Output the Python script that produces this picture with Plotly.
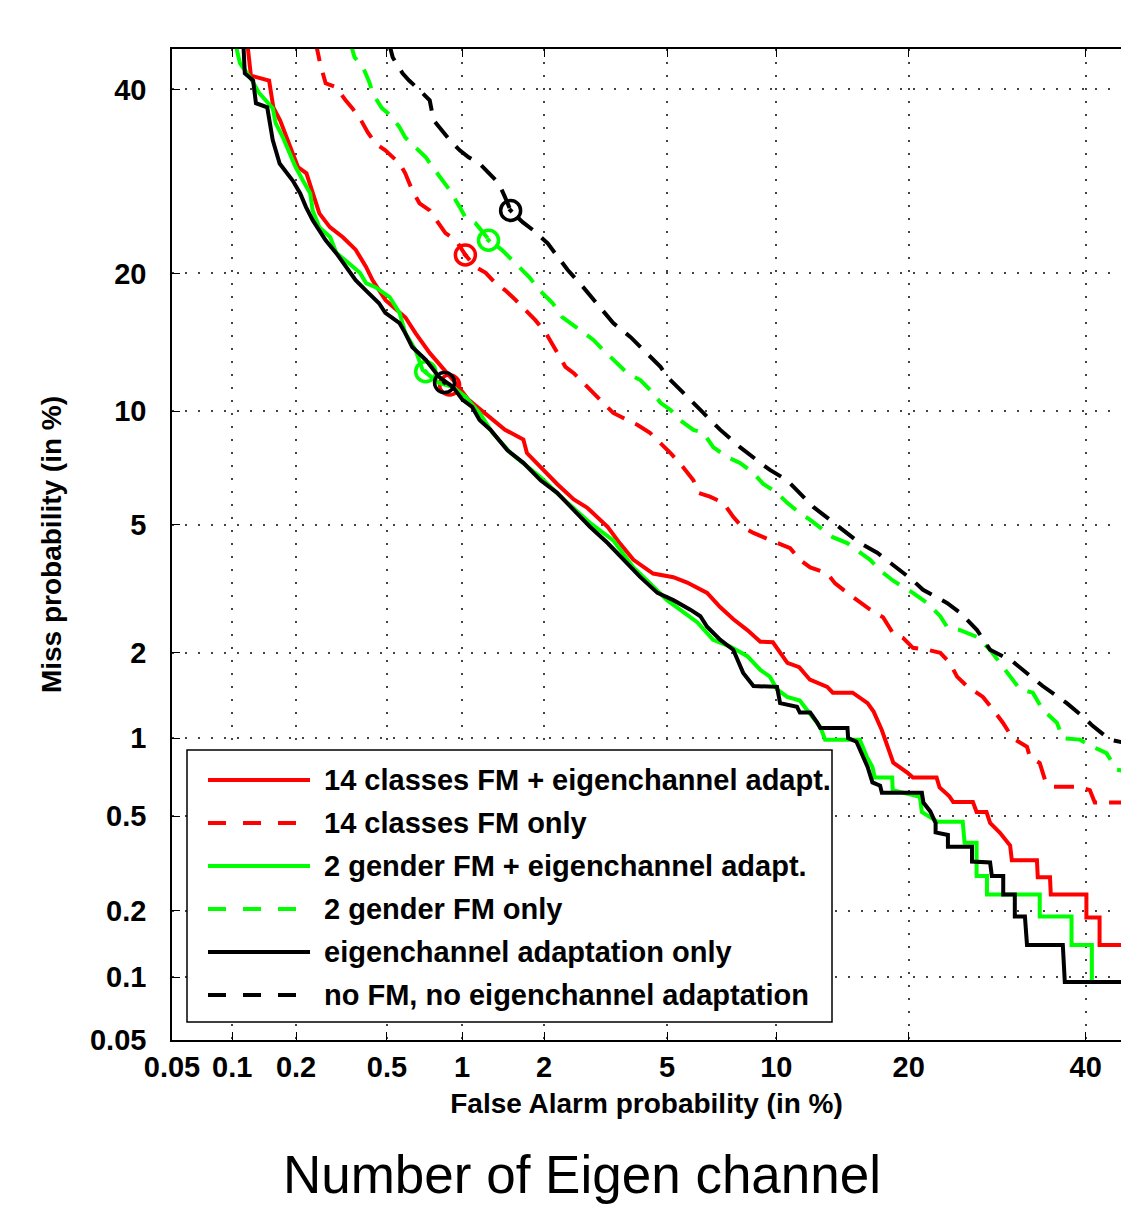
import plotly.graph_objects as go
from statistics import NormalDist

_nd = NormalDist()


def probit(values):
    return [_nd.inv_cdf(v / 100.0) for v in values]


# ---------------- data (percent) ----------------
tick_vals_pct = [0.05, 0.1, 0.2, 0.5, 1, 2, 5, 10, 20, 40]
tick_text = ["0.05", "0.1", "0.2", "0.5", "1", "2", "5", "10", "20", "40"]

legend_labels = [
    "14 classes FM + eigenchannel adapt.",
    "14 classes FM only",
    "2 gender FM + eigenchannel adapt.",
    "2 gender FM only",
    "eigenchannel adaptation only",
    "no FM, no eigenchannel adaptation",
]

red_solid_fa = [0.118, 0.123, 0.150, 0.157, 0.169, 0.183, 0.204, 0.223, 0.239, 0.255,
                0.284, 0.324, 0.368, 0.408, 0.435, 0.493, 0.596, 0.655, 0.748, 0.837,
                0.946, 1.06, 1.315, 1.45, 1.69, 1.74, 1.95, 2.22, 2.53, 2.80,
                3.27, 3.58, 3.95, 4.54, 5.22, 5.73, 6.53, 7.11, 7.72, 8.41,
                9.10, 9.80, 10.66, 11.4, 12.1, 13.3, 13.7, 15.2, 16.4, 16.9,
                17.6, 18.1, 18.6, 19.9, 20.4, 22.7, 23.0, 24.0, 24.4, 26.5,
                26.9, 28.0, 28.4, 29.5, 30.7, 30.9, 33.9, 34.0, 35.5, 35.6,
                40.1, 40.1, 41.8, 41.8, 46.0]
red_solid_miss = [46.0, 41.7, 41.1, 37.8, 36.2, 33.9, 30.8, 30.1, 27.9, 25.8,
                  24.4, 23.4, 22.2, 20.6, 19.4, 17.7, 16.3, 15.1, 13.65, 12.7,
                  11.66, 10.65, 9.5, 9.0, 8.5, 7.85, 7.2, 6.5, 5.9, 5.6,
                  4.94, 4.42, 3.95, 3.59, 3.5, 3.37, 3.13, 2.82, 2.58, 2.38,
                  2.18, 2.17, 1.85, 1.79, 1.62, 1.53, 1.46, 1.46, 1.34, 1.25,
                  1.07, 0.93, 0.81, 0.74, 0.71, 0.71, 0.65, 0.60, 0.57, 0.57,
                  0.52, 0.52, 0.47, 0.43, 0.38, 0.33, 0.33, 0.28, 0.28, 0.236,
                  0.236, 0.187, 0.187, 0.141, 0.141]

red_dashed_fa = [0.245, 0.257, 0.272, 0.303, 0.333, 0.356, 0.388, 0.415, 0.447, 0.492,
                 0.564, 0.595, 0.635, 0.68, 0.747, 0.813, 0.862, 0.946, 1.03, 1.125,
                 1.23, 1.336, 1.454, 1.585, 1.717, 1.864, 2.03, 2.19, 2.37, 2.53,
                 2.80, 3.17, 3.41, 3.78, 4.07, 4.44, 4.78, 5.12, 5.57, 5.97,
                 6.17, 6.65, 7.25, 7.71, 8.14, 8.73, 9.26, 10.04, 10.83, 11.44,
                 12.12, 13.29, 13.87, 14.78, 15.77, 16.61, 17.7, 18.56, 19.5, 20.4,
                 21.77, 23.07, 24.05, 24.8, 25.84, 27.6, 28.73, 29.86, 31.0, 32.7,
                 33.05, 34.24, 34.87, 35.86, 38.9, 40.54, 41.18, 46.0]
red_dashed_miss = [46.0, 43.25, 40.75, 40.25, 38.65, 37.7, 36.25, 34.8, 33.5, 32.7,
                   31.2, 30.1, 28.25, 26.85, 26.1, 24.8, 23.8, 23.1, 21.7, 20.6,
                   20.06, 19.15, 18.53, 17.71, 16.9, 16.09, 15.1, 13.86, 12.72, 12.3,
                   11.43, 10.48, 9.9, 9.51, 9.25, 8.84, 8.33, 7.85, 7.22, 6.65,
                   6.15, 6.0, 5.77, 5.27, 4.94, 4.74, 4.61, 4.45, 4.28, 3.95,
                   3.75, 3.6, 3.35, 3.13, 2.93, 2.77, 2.62, 2.33, 2.24, 2.08,
                   2.05, 2.0, 1.85, 1.66, 1.54, 1.41, 1.27, 1.14, 1.0, 0.93,
                   0.85, 0.807, 0.698, 0.654, 0.654, 0.635, 0.567, 0.567]

green_solid_fa = [0.103, 0.109, 0.122, 0.135, 0.156, 0.161, 0.174, 0.186, 0.199, 0.215,
                  0.232, 0.238, 0.255, 0.285, 0.303, 0.345, 0.384, 0.408, 0.447, 0.513,
                  0.564, 0.595, 0.655, 0.70, 0.813, 0.92, 1.03, 1.166, 1.304, 1.52,
                  1.945, 2.41, 2.864, 3.41, 3.95, 4.35, 5.0, 5.46, 6.13, 6.79,
                  7.57, 8.41, 9.1, 9.63, 10.04, 10.65, 11.44, 11.9, 12.81, 13.15,
                  15.77, 16.35, 16.8, 17.0, 18.5, 18.55, 21.06, 21.25, 22.8, 25.4,
                  25.6, 26.9, 26.9, 28.05, 28.05, 34.24, 34.24, 38.2, 38.2, 40.8,
                  40.8, 46.0]
green_solid_miss = [46.0, 43.25, 41.5, 39.5, 37.7, 35.9, 34.2, 32.4, 30.8, 29.3,
                    27.9, 26.1, 24.4, 23.4, 21.9, 20.9, 20.06, 19.15, 18.8, 17.96,
                    16.66, 15.1, 13.86, 12.5, 11.67, 11.43, 10.83, 9.9, 8.84, 7.85,
                    6.78, 5.77, 5.07, 4.51, 3.75, 3.42, 2.97, 2.77, 2.52, 2.21,
                    2.10, 1.95, 1.75, 1.66, 1.50, 1.41, 1.37, 1.27, 1.10, 0.988,
                    0.988, 0.85, 0.78, 0.71, 0.71, 0.635, 0.598, 0.52, 0.475, 0.475,
                    0.39, 0.39, 0.283, 0.283, 0.236, 0.236, 0.189, 0.189, 0.141, 0.141,
                    0.095, 0.095]

green_dashed_fa = [0.348, 0.364, 0.396, 0.423, 0.435, 0.476, 0.518, 0.564, 0.595, 0.655,
                   0.721, 0.767, 0.837, 0.896, 0.98, 1.03, 1.125, 1.27, 1.415, 1.585,
                   1.77, 1.93, 2.14, 2.31, 2.47, 2.665, 2.94, 3.17, 3.41, 3.78,
                   4.15, 4.54, 4.78, 5.12, 5.46, 5.97, 6.37, 6.79, 7.43, 8.04,
                   8.73, 9.26, 10.04, 10.65, 11.44, 12.12, 13.0, 13.7, 14.78, 15.54,
                   16.61, 17.45, 18.56, 20.4, 21.77, 23.07, 23.75, 25.12, 26.95, 28.39,
                   29.52, 31.0, 31.85, 33.4, 34.6, 36.36, 37.1, 39.26, 40.9, 42.7,
                   44.0, 46.0]
green_dashed_miss = [46.0, 44.0, 42.74, 40.75, 39.5, 37.7, 36.8, 35.4, 34.2, 33.05,
                     31.9, 30.8, 29.3, 28.25, 26.45, 25.4, 24.8, 23.1, 22.16, 20.9,
                     19.7, 18.53, 17.47, 16.34, 15.86, 15.33, 14.6, 13.86, 13.18, 12.3,
                     11.86, 11.06, 10.48, 10.07, 9.51, 8.99, 8.84, 8.13, 7.66, 7.4,
                     6.95, 6.5, 6.15, 5.77, 5.4, 5.17, 4.84, 4.61, 4.43, 4.23,
                     3.95, 3.67, 3.42, 3.13, 2.91, 2.64, 2.44, 2.38, 2.26, 2.05,
                     1.85, 1.62, 1.50, 1.46, 1.27, 1.14, 1.0, 0.988, 0.93, 0.88,
                     0.762, 0.745]

black_solid_fa = [0.113, 0.115, 0.126, 0.130, 0.147, 0.150, 0.156, 0.168, 0.179, 0.193,
                  0.209, 0.222, 0.238, 0.255, 0.272, 0.303, 0.333, 0.368, 0.408, 0.462,
                  0.492, 0.564, 0.595, 0.635, 0.721, 0.813, 0.921, 1.005, 1.093, 1.166,
                  1.283, 1.48, 1.69, 1.945, 2.22, 2.53, 2.864, 3.27, 3.67, 4.15,
                  4.68, 5.22, 5.85, 6.25, 6.53, 7.11, 7.71, 8.2, 8.73, 10.04,
                  10.22, 11.26, 11.44, 12.12, 12.6, 12.81, 14.8, 14.85, 15.5, 16.0,
                  16.4, 16.8, 17.45, 17.6, 21.25, 21.4, 22.07, 22.6, 22.6, 23.85,
                  23.85, 26.4, 26.4, 28.4, 28.6, 29.9, 29.9, 31.25, 31.25, 32.45,
                  32.7, 37.1, 37.35, 46.0]
black_solid_miss = [46.0, 42.0, 41.1, 38.3, 37.8, 36.25, 33.9, 31.2, 30.4, 29.3,
                    27.9, 26.45, 25.1, 24.1, 23.1, 21.87, 20.6, 19.4, 18.5, 17.47,
                    16.66, 15.86, 15.1, 14.08, 13.18, 12.06, 11.43, 10.65, 10.24, 9.51,
                    8.99, 7.98, 7.4, 6.65, 6.15, 5.50, 4.94, 4.43, 3.95, 3.5,
                    3.13, 2.97, 2.77, 2.64, 2.44, 2.21, 2.05, 1.71, 1.54, 1.53,
                    1.34, 1.30, 1.24, 1.24, 1.14, 1.09, 1.09, 1.0, 0.97, 0.85,
                    0.78, 0.68, 0.66, 0.62, 0.62, 0.567, 0.523, 0.47, 0.43, 0.42,
                    0.376, 0.376, 0.326, 0.323, 0.283, 0.283, 0.236, 0.236, 0.189, 0.189,
                    0.141, 0.141, 0.095, 0.095]

black_dashed_fa = [0.508, 0.528, 0.58, 0.617, 0.68, 0.747, 0.774, 0.813, 0.896, 0.98,
                   1.06, 1.166, 1.27, 1.375, 1.45, 1.52, 1.68, 1.83, 2.06, 2.41,
                   2.72, 3.10, 3.41, 3.87, 4.24, 4.78, 5.01, 5.46, 6.25, 7.11,
                   8.04, 9.10, 9.63, 10.65, 11.44, 12.33, 13.49, 14.78, 15.77, 17.2,
                   19.21, 20.4, 21.36, 23.75, 25.12, 26.95, 28.39, 31.0, 34.6, 37.6,
                   39.65, 40.9, 43.13, 46.0]
black_dashed_miss = [46.0, 44.0, 42.0, 41.1, 39.9, 38.65, 36.25, 35.4, 33.9, 32.7,
                     31.9, 31.2, 30.1, 29.0, 27.5, 26.1, 24.9, 24.1, 22.8, 20.33,
                     18.8, 17.14, 15.86, 14.8, 13.86, 12.72, 12.06, 11.24, 10.07, 8.99,
                     8.13, 7.4, 7.09, 6.65, 6.15, 5.62, 5.17, 4.74, 4.43, 4.15,
                     3.67, 3.42, 3.2, 2.91, 2.71, 2.38, 2.05, 1.87, 1.54, 1.34,
                     1.2, 1.11, 0.988, 0.95]

# minimum-DCF operating points (false alarm %, miss %)
dcf_fa = [0.895, 1.03, 0.72, 1.26, 0.855, 1.52]
dcf_miss = [11.55, 21.7, 12.4, 23.1, 11.7, 26.1]

# ---------------- styling ----------------
FONT = "Liberation Sans, Arial, sans-serif"
RED, GREEN, BLACK = "#ff0000", "#00ff00", "#000000"
DASH = "20px,12px"

series = [
    (red_solid_fa, red_solid_miss, RED, "solid"),
    (red_dashed_fa, red_dashed_miss, RED, DASH),
    (green_solid_fa, green_solid_miss, GREEN, "solid"),
    (green_dashed_fa, green_dashed_miss, GREEN, DASH),
    (black_solid_fa, black_solid_miss, BLACK, "solid"),
    (black_dashed_fa, black_dashed_miss, BLACK, DASH),
]

X_RANGE_PCT = [0.05, 44.6]
Y_RANGE_PCT = [0.05, 45.05]

fig = go.Figure()
for i, (fa, miss, color, dash) in enumerate(series):
    fig.add_trace(go.Scatter(
        x=probit(fa), y=probit(miss), mode="lines",
        name=legend_labels[i],
        line=dict(color=color, width=4, dash=dash),
        hoverinfo="skip", showlegend=False,
    ))
    fig.add_trace(go.Scatter(
        x=probit([dcf_fa[i]]), y=probit([dcf_miss[i]]), mode="markers",
        marker=dict(symbol="circle-open-dot", size=20, color=color,
                    line=dict(color=color, width=3.5)),
        hoverinfo="skip", showlegend=False,
    ))

axis_common = dict(
    ticks="inside", ticklen=8, tickwidth=1, tickcolor="black",
    showline=True, linecolor="black", linewidth=1.5,
    showgrid=True, gridcolor="#444444", gridwidth=1.5, griddash="2px,11px",
    zeroline=False,
    tickfont=dict(family=FONT, size=29, color="black", weight="bold"),
)

fig.update_xaxes(
    **axis_common,
    range=probit(X_RANGE_PCT),
    tickvals=probit(tick_vals_pct), ticktext=tick_text,
    mirror="ticks", ticklabelstandoff=0,
    title=dict(text="False Alarm probability (in %)",
               font=dict(family=FONT, size=28, color="black", weight="bold"),
               standoff=12),
)
fig.update_yaxes(
    **axis_common,
    range=probit(Y_RANGE_PCT),
    tickvals=probit(tick_vals_pct), ticktext=tick_text,
    mirror=False, ticklabelstandoff=18,
    title=dict(text="Miss probability (in %)",
               font=dict(family=FONT, size=28, color="black", weight="bold"),
               standoff=20),
)

# ---------------- manual legend (long line samples like the original) ----------------
PLOT_L, PLOT_T, PLOT_W, PLOT_H = 172, 49, 949, 991


def px_x(px):
    return (px - PLOT_L) / PLOT_W


def px_y(py):
    return (PLOT_T + PLOT_H - py) / PLOT_H


shapes = [dict(type="rect", xref="paper", yref="paper",
               x0=px_x(187), x1=px_x(832), y0=px_y(1022), y1=px_y(750),
               line=dict(color="black", width=1.5), fillcolor="white", layer="above")]
annotations = []
legend_row_px = [780, 823, 866, 909, 952, 995]
for i, (fa, miss, color, dash) in enumerate(series):
    ry = px_y(legend_row_px[i])
    shapes.append(dict(type="line", xref="paper", yref="paper",
                       x0=px_x(208), x1=px_x(310), y0=ry, y1=ry,
                       line=dict(color=color, width=4,
                                 dash="18px,17px" if dash != "solid" else "solid"),
                       layer="above"))
    annotations.append(dict(xref="paper", yref="paper", x=px_x(322), y=ry,
                            xanchor="left", yanchor="middle", showarrow=False,
                            text=legend_labels[i],
                            font=dict(family=FONT, size=29, color="black", weight="bold")))

fig.update_layout(
    width=1121, height=1206,
    margin=dict(l=PLOT_L, r=0, t=PLOT_T, b=1206 - PLOT_T - PLOT_H, pad=0),
    paper_bgcolor="white", plot_bgcolor="white",
    showlegend=False,
    shapes=shapes, annotations=annotations,
    title=dict(text="Number of Eigen channel", xref="container", yref="container",
               x=582 / 1121, xanchor="center", y=(1206 - 1174) / 1206, yanchor="middle",
               font=dict(family=FONT, size=53, color="black")),
)

fig.write_html("out.html",
               config={"displayModeBar": False},
               post_script="document.body.style.margin='0';document.body.style.overflow='hidden';")
